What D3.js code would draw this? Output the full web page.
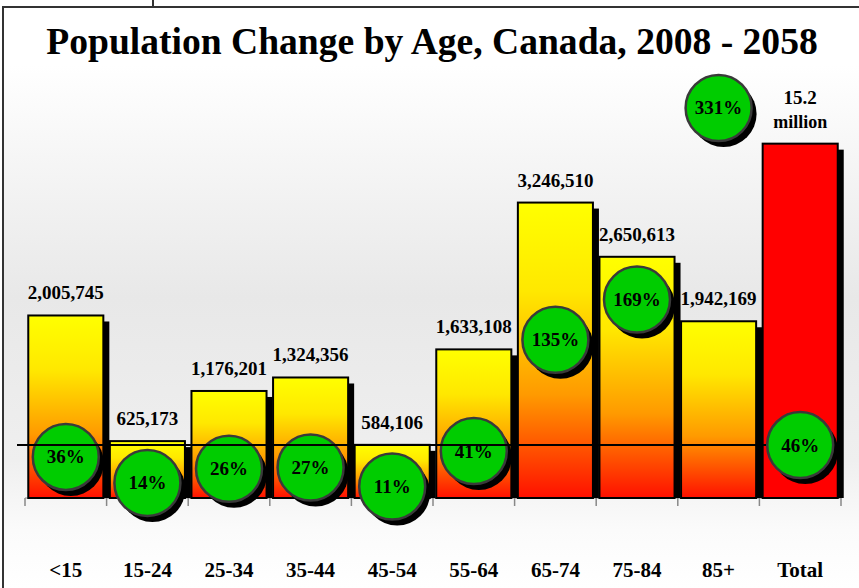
<!DOCTYPE html>
<html>
<head>
<meta charset="UTF-8"/>
<style>
  body { margin: 0; background: #fff; }
  text { font-family: "Liberation Serif", "Times New Roman", serif; font-weight: bold; fill: #000; }
</style>
</head>
<body>
<script src="https://cdn.jsdelivr.net/npm/d3@7"></script>
<script>
// chart data
var categories = ["<15", "15-24", "25-34", "35-44", "45-54", "55-64", "65-74", "75-84", "85+", "Total"];
var popChange  = [2005745, 625173, 1176201, 1324356, 584106, 1633108, 3246510, 2650613, 1942169, 15200000];
var pctChange  = [36, 14, 26, 27, 11, 41, 135, 169, 331, 46];
var valueLabels = ["2,005,745", "625,173", "1,176,201", "1,324,356", "584,106", "1,633,108",
                   "3,246,510", "2,650,613", "1,942,169", "15.2|million"];
var totalPct = 46;

var W = 859, H = 588;
var baseY = 498;

var svg = d3.select("body").append("svg")
  .attr("width", W)
  .attr("height", H);

var defs = svg.append("defs");

// background fade
var bg = defs.append("linearGradient").attr("id", "bg")
  .attr("x1", 0).attr("y1", 0).attr("x2", 0).attr("y2", 1);
[[0, "#ffffff"], [0.1, "#ffffff"], [0.5, "#e8e8e8"], [0.78, "#efefef"], [0.9, "#fbfbfb"], [1, "#ffffff"]]
  .forEach(function(s){ bg.append("stop").attr("offset", s[0]).attr("stop-color", s[1]); });

// yellow to red bars
var fire = defs.append("linearGradient").attr("id", "fire")
  .attr("x1", 0).attr("y1", 0).attr("x2", 0).attr("y2", 1);
[[0, "#ffff00"], [0.3, "#ffe800"], [0.65, "#ff9a00"], [1, "#ff1000"]]
  .forEach(function(s){ fire.append("stop").attr("offset", s[0]).attr("stop-color", s[1]); });

svg.append("rect")
  .attr("x", 3).attr("y", 7)
  .attr("width", W - 3).attr("height", H - 7)
  .attr("fill", "url(#bg)");

// frame bits
svg.append("path")
  .attr("d", "M3," + H + "V7H" + W + "M153,0V7")
  .attr("fill", "none")
  .attr("stroke", "#333")
  .attr("stroke-width", 2);

svg.append("text")
  .attr("x", 432).attr("y", 54)
  .attr("text-anchor", "middle")
  .attr("font-size", 37.6)
  .text("Population Change by Age, Canada, 2008 - 2058");

// scales
var x = d3.scaleBand()
  .domain(categories)
  .range([25, 841])
  .paddingInner(0.08)
  .paddingOuter(0.04);

var yPop = d3.scaleLinear().domain([0, 4e6]).range([baseY, 134]);
var yTot = d3.scaleLinear().domain([0, 16e6]).range([baseY, 125]);
var yPct = d3.scaleLinear().domain([0, 350]).range([499.5, 85.5]);

var data = categories.map(function(c, i){
  return { cat: c, value: popChange[i], pct: pctChange[i], label: valueLabels[i], total: c === "Total" };
});

var yOf = function(d){ return d.total ? yTot(d.value) : yPop(d.value); };
var cx = function(d){ return x(d.cat) + x.bandwidth() / 2; };

// ticks along the base
var step = x.step();
svg.append("g").selectAll("line")
  .data(d3.range(categories.length + 1))
  .enter().append("line")
    .attr("x1", function(i){ return 25 + i * step; })
    .attr("x2", function(i){ return 25 + i * step; })
    .attr("y1", baseY)
    .attr("y2", baseY + 8)
    .attr("stroke", "#888")
    .attr("stroke-width", 1.5);

svg.append("line")
  .attr("x1", 25).attr("x2", 841)
  .attr("y1", baseY).attr("y2", baseY)
  .attr("stroke", "#888");

var bars = svg.append("g");

// shadows
bars.selectAll("rect.shadow")
  .data(data)
  .enter().append("rect")
    .attr("class", "shadow")
    .attr("x", function(d){ return x(d.cat) + 6; })
    .attr("y", function(d){ return yOf(d) + 6; })
    .attr("width", x.bandwidth())
    .attr("height", function(d){ return baseY - yOf(d) - 6; })
    .attr("fill", "#000");

bars.selectAll("rect.bar")
  .data(data)
  .enter().append("rect")
    .attr("class", "bar")
    .attr("x", function(d){ return x(d.cat); })
    .attr("y", yOf)
    .attr("width", x.bandwidth())
    .attr("height", function(d){ return baseY - yOf(d); })
    .attr("fill", function(d){ return d.total ? "#ff0000" : "url(#fire)"; })
    .attr("stroke", "#000")
    .attr("stroke-width", 2);

// value labels
bars.selectAll("text.val")
  .data(data)
  .enter().append("text")
    .attr("class", "val")
    .attr("text-anchor", "middle")
    .attr("font-size", 19)
    .each(function(d){
      var parts = d.label.split("|");
      var t = d3.select(this);
      var y0 = yOf(d) - 16 - (parts.length - 1) * 24;
      parts.forEach(function(p, k){
        t.append("tspan")
          .attr("x", cx(d))
          .attr("y", y0 + k * 24)
          .attr("font-size", k > 0 ? 18 : 19)
          .text(p);
      });
    });

// percent bubbles
var r = 33;
var bubbles = svg.append("g");

bubbles.selectAll("circle.shadow")
  .data(data)
  .enter().append("circle")
    .attr("class", "shadow")
    .attr("cx", function(d){ return cx(d) + 5; })
    .attr("cy", function(d){ return yPct(d.pct) + 6; })
    .attr("r", r)
    .attr("fill", "#000");

bubbles.selectAll("circle.ball")
  .data(data)
  .enter().append("circle")
    .attr("class", "ball")
    .attr("cx", cx)
    .attr("cy", function(d){ return yPct(d.pct); })
    .attr("r", r)
    .attr("fill", "#00cc00")
    .attr("stroke", "#3a3a3a")
    .attr("stroke-width", 2.5);

// total percent reference line, over the bubbles that sit on it
svg.append("line")
  .attr("x1", 17).attr("x2", 766)
  .attr("y1", yPct(totalPct)).attr("y2", yPct(totalPct))
  .attr("stroke", "#000")
  .attr("stroke-width", 2);

bubbles.selectAll("text")
  .data(data)
  .enter().append("text")
    .attr("x", cx)
    .attr("y", function(d){ return yPct(d.pct) + 6.5; })
    .attr("text-anchor", "middle")
    .attr("font-size", 19)
    .text(function(d){ return d.pct + "%"; });

// category names
svg.append("g").selectAll("text")
  .data(categories)
  .enter().append("text")
    .attr("x", function(d){ return x(d) + x.bandwidth() / 2; })
    .attr("y", 577)
    .attr("text-anchor", "middle")
    .attr("font-size", 21)
    .text(function(d){ return d; });
</script>
</body>
</html>
